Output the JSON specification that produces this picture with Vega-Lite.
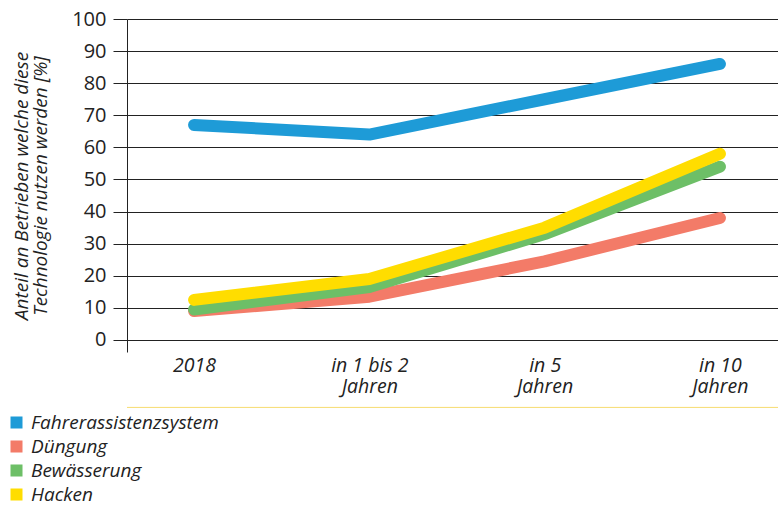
{
  "$schema": "https://vega.github.io/schema/vega-lite/v6.json",
  "width": 651,
  "height": 333,
  "autosize": {"type": "none"},
  "padding": {"left": 127, "top": 19, "right": 0, "bottom": 155},
  "background": "white",
  "config": {
    "view": {"stroke": null},
    "font": "Open Sans"
  },
  "data": {
    "values": [
      {"zeit": "2018", "serie": "Fahrerassistenzsystem", "wert": 67},
      {"zeit": "in 1 bis 2|Jahren", "serie": "Fahrerassistenzsystem", "wert": 64},
      {"zeit": "in 5|Jahren", "serie": "Fahrerassistenzsystem", "wert": 75},
      {"zeit": "in 10|Jahren", "serie": "Fahrerassistenzsystem", "wert": 86},
      {"zeit": "2018", "serie": "Düngung", "wert": 9},
      {"zeit": "in 1 bis 2|Jahren", "serie": "Düngung", "wert": 13.5},
      {"zeit": "in 5|Jahren", "serie": "Düngung", "wert": 24.5},
      {"zeit": "in 10|Jahren", "serie": "Düngung", "wert": 38},
      {"zeit": "2018", "serie": "Bewässerung", "wert": 9.5},
      {"zeit": "in 1 bis 2|Jahren", "serie": "Bewässerung", "wert": 16.5},
      {"zeit": "in 5|Jahren", "serie": "Bewässerung", "wert": 33},
      {"zeit": "in 10|Jahren", "serie": "Bewässerung", "wert": 54},
      {"zeit": "2018", "serie": "Hacken", "wert": 12.5},
      {"zeit": "in 1 bis 2|Jahren", "serie": "Hacken", "wert": 19},
      {"zeit": "in 5|Jahren", "serie": "Hacken", "wert": 35},
      {"zeit": "in 10|Jahren", "serie": "Hacken", "wert": 58}
    ]
  },
  "encoding": {
    "y": {
      "field": "wert",
      "type": "quantitative",
      "scale": {"domain": [-3.74, 100], "nice": false, "zero": false},
      "axis": {
        "values": [0, 10, 20, 30, 40, 50, 60, 70, 80, 90, 100],
        "title": ["Anteil an Betrieben welche diese", "Technologie nutzen werden [%]"],
        "titleFont": "Open Sans",
        "titleFontSize": 19,
        "titleFontStyle": "italic",
        "titleFontWeight": "normal",
        "titleColor": "#222222",
        "titlePadding": 21,
        "titleLineHeight": 19,
        "labelFont": "Open Sans",
        "labelFontSize": 20,
        "labelColor": "#222222",
        "labelPadding": 7,
        "labelOverlap": false,
        "tickSize": 14,
        "tickColor": "#222222",
        "domainColor": "#222222",
        "grid": true,
        "gridColor": "#222222",
        "gridOpacity": 1,
        "gridWidth": 1
      }
    }
  },
  "layer": [
    {
      "mark": {"type": "rule", "color": "#f7dc6f", "strokeWidth": 1, "clip": false},
      "data": {"values": [{"wert": -21}]},
      "encoding": {}
    },
    {
      "mark": {"type": "line", "strokeWidth": 12, "strokeCap": "round", "strokeJoin": "round"},
      "encoding": {
        "x": {
          "field": "zeit",
          "type": "ordinal",
          "sort": null,
          "scale": {"type": "point", "padding": 0.357, "align": 0.536},
          "axis": {
            "title": null,
            "domain": false,
            "ticks": false,
            "labelAngle": 0,
            "labelExpr": "split(datum.label, '|')",
            "labelFont": "Open Sans",
            "labelFontSize": 19.5,
            "labelFontStyle": "italic",
            "labelColor": "#222222",
            "labelPadding": 4,
            "labelLineHeight": 21,
            "labelOverlap": false
          }
        },
        "color": {
          "field": "serie",
          "type": "nominal",
          "sort": ["Fahrerassistenzsystem", "Düngung", "Bewässerung", "Hacken"],
          "scale": {
            "domain": ["Fahrerassistenzsystem", "Düngung", "Bewässerung", "Hacken"],
            "range": ["#1e9bd7", "#f37b68", "#6dbf67", "#ffdd00"]
          },
          "legend": {
            "title": null,
            "orient": "none",
            "legendX": -120,
            "legendY": 394,
            "symbolType": "square",
            "symbolSize": 36,
            "symbolStrokeWidth": 6,
            "symbolOpacity": 1,
            "labelFont": "Open Sans",
            "labelFontSize": 19,
            "labelFontStyle": "italic",
            "labelColor": "#222222",
            "labelOffset": 5,
            "labelLimit": 400,
            "clipHeight": 19,
            "rowPadding": 4,
            "padding": 0
          }
        }
      }
    }
  ]
}
